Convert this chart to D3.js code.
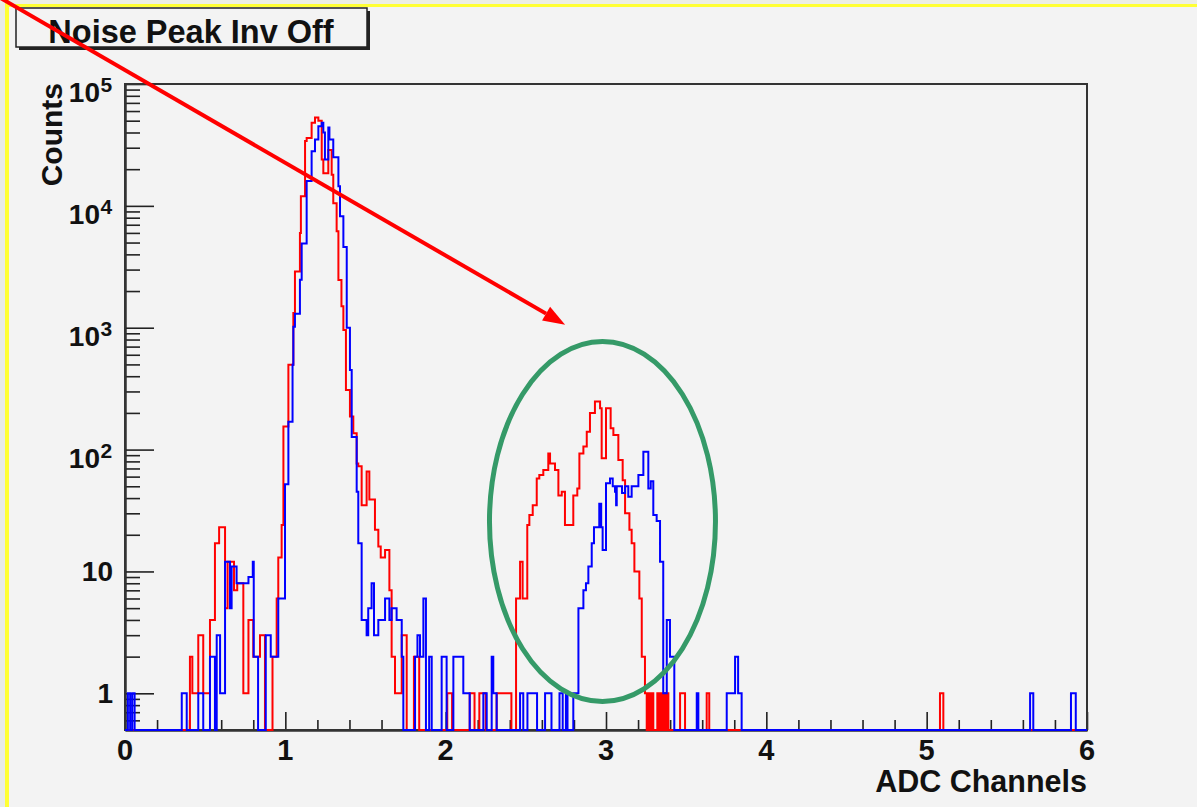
<!DOCTYPE html>
<html>
<head>
<meta charset="utf-8">
<script src="https://d3js.org/d3.v7.min.js"></script>
<style>
body { margin: 0; background: #f3f3f3; overflow: hidden; }
svg { display: block; font-family: 'Liberation Sans', Arial, sans-serif; font-weight: bold; }
</style>
</head>
<body>
<div class="main"></div>
<script>
// histogram steps: [left edge in ADC channels, counts] - count holds until next edge
var redBins = [
    [0, 0], [0.405, 2], [0.42, 1], [0.457, 3], [0.488, 1], [0.53, 4], [0.561, 17], [0.587, 23],
    [0.624, 5], [0.64, 12], [0.68, 7], [0.70, 8], [0.738, 1], [0.77, 4], [0.80, 2],
    [0.842, 3], [0.873, 0], [0.92, 2], [0.946, 6], [0.956, 13], [0.977, 24], [0.988, 155],
    [1.019, 496], [1.050, 1320], [1.060, 2900], [1.091, 6000], [1.097, 12000], [1.123, 34000],
    [1.133, 36000], [1.164, 48000], [1.185, 53000], [1.206, 50000], [1.227, 24000],
    [1.237, 18500], [1.268, 28800], [1.289, 18000], [1.299, 10500], [1.320, 6200],
    [1.331, 2460], [1.350, 1500], [1.362, 960], [1.378, 309], [1.403, 187], [1.424, 136],
    [1.445, 77], [1.455, 73], [1.476, 35], [1.507, 66], [1.524, 39], [1.559, 22],
    [1.580, 16], [1.595, 13], [1.622, 15], [1.649, 7], [1.663, 2], [1.684, 1], [1.726, 3],
    [1.757, 0], [1.802, 2], [1.835, 0], [2.01, 1], [2.04, 0], [2.15, 1], [2.18, 0],
    [2.21, 1], [2.25, 0], [2.318, 1], [2.41, 0], [2.439, 6], [2.464, 12], [2.480, 6],
    [2.509, 24], [2.522, 29], [2.543, 35], [2.568, 58], [2.584, 62], [2.609, 68],
    [2.640, 93], [2.651, 77], [2.682, 68], [2.703, 42], [2.724, 45], [2.744, 24],
    [2.796, 42], [2.821, 48], [2.834, 93], [2.859, 106], [2.880, 140], [2.900, 200],
    [2.931, 248], [2.963, 218], [2.973, 85], [3.000, 218], [3.029, 150], [3.046, 132],
    [3.077, 82], [3.104, 56], [3.119, 30], [3.146, 22], [3.160, 17], [3.177, 10],
    [3.208, 6], [3.223, 2], [3.243, 1], [3.254, 0], [3.264, 1], [3.274, 0], [3.285, 1],
    [3.295, 0], [3.320, 1], [3.326, 0], [3.337, 1], [3.347, 0], [3.357, 1], [3.368, 0],
    [3.379, 1], [3.389, 0], [3.462, 1], [3.493, 0], [3.628, 1], [3.644, 0], [5.083, 1],
    [5.104, 0]
];

var blueBins = [
    [0, 0], [0.018, 1], [0.032, 0], [0.045, 1], [0.06, 0], [0.354, 1], [0.385, 0],
    [0.457, 1], [0.488, 0], [0.53, 2], [0.561, 0], [0.572, 3], [0.593, 1], [0.624, 12],
    [0.655, 5], [0.665, 11], [0.696, 8], [0.77, 9], [0.797, 12], [0.803, 2], [0.83, 0],
    [0.878, 3], [0.909, 2], [0.956, 6], [0.998, 52], [1.019, 169], [1.045, 496],
    [1.050, 1020], [1.060, 1300], [1.091, 2470], [1.102, 4900], [1.133, 16000],
    [1.164, 28000], [1.185, 35000], [1.206, 45000], [1.227, 48000], [1.237, 40000],
    [1.247, 24000], [1.268, 44000], [1.275, 35000], [1.299, 25000], [1.331, 14500],
    [1.341, 8200], [1.362, 4600], [1.383, 1000], [1.403, 450], [1.414, 127], [1.445, 45],
    [1.455, 17], [1.476, 4], [1.507, 3], [1.517, 5], [1.538, 8], [1.553, 3], [1.580, 4],
    [1.622, 6], [1.649, 4], [1.663, 5], [1.694, 4], [1.726, 2], [1.736, 0], [1.809, 2],
    [1.824, 3], [1.840, 2], [1.861, 6], [1.877, 0], [1.897, 2], [1.913, 0], [1.975, 2],
    [2.006, 0], [2.048, 2], [2.11, 1], [2.15, 0], [2.235, 1], [2.256, 0], [2.287, 2],
    [2.297, 1], [2.318, 0], [2.464, 1], [2.484, 0], [2.51, 1], [2.57, 0], [2.62, 1],
    [2.66, 0], [2.71, 1], [2.73, 0], [2.75, 1], [2.76, 0], [2.796, 1], [2.828, 5],
    [2.859, 7], [2.875, 8], [2.890, 11], [2.911, 17], [2.925, 23], [2.958, 36],
    [2.970, 23], [2.979, 15], [3.000, 53], [3.025, 58], [3.042, 50], [3.056, 45],
    [3.063, 35], [3.067, 50], [3.10, 44], [3.119, 50], [3.139, 41], [3.160, 50],
    [3.202, 62], [3.233, 96], [3.264, 48], [3.279, 55], [3.295, 29], [3.316, 26],
    [3.337, 12], [3.357, 1], [3.379, 4], [3.399, 2], [3.426, 0], [3.566, 1], [3.576, 0],
    [3.753, 1], [3.805, 2], [3.824, 1], [3.846, 0], [5.645, 1], [5.665, 0], [5.90, 1],
    [5.93, 0]
];

var xTicks = [0, 1, 2, 3, 4, 5, 6];
var yTicks = [1, 10, 100, 1000, 10000, 100000];
var yTickBase = ['1', '10', '10', '10', '10', '10'];
var yTickExp = ['', '', '2', '3', '4', '5'];

var title = 'Noise Peak Inv Off';
var xTitle = 'ADC Channels';
var yTitle = 'Counts';

// annotation positions in data units
var arrowFrom = [-0.78, 510000];
var arrowTo = [2.745, 1060];
var ringCenter = [2.978, 25.7];

var options = {
    'width': 1197,
    'height': 807,
};

var svg = d3.select('.main')
    .append('svg')
    .attr('width', options.width)
    .attr('height', options.height);

svg.append('rect')
    .attr('width', options.width)
    .attr('height', options.height)
    .style('fill', '#f3f3f3');

// yellow frame of the slide
svg.append('rect').attr('x', 0).attr('y', 0).attr('width', 5).attr('height', options.height).style('fill', '#e8ebe6');
svg.append('rect').attr('x', 0).attr('y', 0).attr('width', options.width).attr('height', 4).style('fill', '#eceee4');
svg.append('rect').attr('x', 5).attr('y', 0).attr('width', 4).attr('height', options.height).style('fill', '#ffff33');
svg.append('rect').attr('x', 5).attr('y', 4).attr('width', options.width).attr('height', 3).style('fill', '#ffff33');

var x = d3.scaleLinear().domain([0, 6]).range([125, 1087]);
var y = d3.scaleLog().domain([0.5, 100000]).range([730, 84]);

function yc(c) {
    return c > 0 ? y(c) : y.range()[0];
}

// minor ticks
var xMinor = d3.range(0, 6.001, 0.2).map(function (d) { return Math.round(d * 10) / 10; })
    .filter(function (d) { return xTicks.indexOf(d) < 0; });
var yMinor = [0.6, 0.7, 0.8, 0.9];
[1, 10, 100, 1000, 10000].forEach(function (dec) {
    for (var k = 2; k <= 9; k++) yMinor.push(k * dec);
});

var gAxes = svg.append('g');

gAxes.append('g')
    .attr('transform', 'translate(0,730)')
    .call(d3.axisBottom(x).tickValues(xMinor).tickSize(-10).tickSizeOuter(0).tickFormat(''));
gAxes.append('g')
    .attr('transform', 'translate(0,730)')
    .call(d3.axisBottom(x).tickValues(xTicks).tickSize(-18).tickSizeOuter(0).tickFormat(''));
gAxes.append('g')
    .attr('transform', 'translate(125,0)')
    .call(d3.axisLeft(y).tickValues(yMinor).tickSize(-15).tickSizeOuter(0).tickFormat(''));
gAxes.append('g')
    .attr('transform', 'translate(125,0)')
    .call(d3.axisLeft(y).tickValues(yTicks).tickSize(-29).tickSizeOuter(0).tickFormat(''));

gAxes.selectAll('.domain').style('stroke', '#333').style('stroke-width', '2px');
gAxes.selectAll('.tick line').style('stroke', '#222').style('stroke-width', '1.6px');

svg.append('rect')
    .attr('x', x(0))
    .attr('y', y(100000))
    .attr('width', x(6) - x(0))
    .attr('height', y(0.5) - y(100000))
    .style('fill', 'none')
    .style('stroke', '#333')
    .style('stroke-width', '2px');

// tick labels
svg.selectAll('.xlab')
    .data(xTicks)
    .enter()
    .append('text')
    .attr('class', 'xlab')
    .attr('x', function (d) { return x(d); })
    .attr('y', 760)
    .attr('text-anchor', 'middle')
    .style('font-size', '29px')
    .style('fill', '#111')
    .text(function (d) { return d; });

var yLab = svg.selectAll('.ylab')
    .data(yTicks)
    .enter()
    .append('g')
    .attr('class', 'ylab');

yLab.append('text')
    .attr('x', function (d, i) { return yTickExp[i] ? 100 : 113; })
    .attr('y', function (d, i) { return y(d) + (yTickExp[i] ? 18 : 10); })
    .attr('text-anchor', 'end')
    .style('font-size', '28px')
    .style('fill', '#111')
    .text(function (d, i) { return yTickBase[i]; });

yLab.append('text')
    .attr('x', 100.5)
    .attr('y', function (d) { return y(d) + 8; })
    .style('font-size', '21px')
    .style('fill', '#111')
    .text(function (d, i) { return yTickExp[i]; });

svg.append('text')
    .attr('x', 1087)
    .attr('y', 792)
    .attr('text-anchor', 'end')
    .style('font-size', '30.5px')
    .style('fill', '#111')
    .text(xTitle);

svg.append('text')
    .attr('transform', 'translate(62,83) rotate(-90)')
    .attr('text-anchor', 'end')
    .style('font-size', '30px')
    .style('fill', '#111')
    .text(yTitle);

// histograms
var step = d3.line()
    .x(function (d) { return x(d[0]); })
    .y(function (d) { return yc(d[1]); })
    .curve(d3.curveStepAfter);

[[redBins, '#ff0000'], [blueBins, '#0000ff']].forEach(function (s) {
    svg.append('path')
        .attr('d', step(s[0].concat([[6, 0]])))
        .style('fill', 'none')
        .style('stroke', s[1])
        .style('stroke-width', '2px')
        .style('stroke-linejoin', 'miter');
});

// title box
svg.append('rect')
    .attr('x', 19).attr('y', 11).attr('width', 351).attr('height', 39)
    .style('fill', '#222');
svg.append('rect')
    .attr('x', 16).attr('y', 8).attr('width', 351).attr('height', 39)
    .style('fill', '#f3f3f3')
    .style('stroke', '#222')
    .style('stroke-width', '1.5px');
svg.append('text')
    .attr('x', 191)
    .attr('y', 43)
    .attr('text-anchor', 'middle')
    .style('font-size', '32.5px')
    .style('fill', '#111')
    .text(title);

// green ring
svg.append('ellipse')
    .attr('cx', x(ringCenter[0]))
    .attr('cy', y(ringCenter[1]))
    .attr('rx', 113)
    .attr('ry', 180)
    .style('fill', 'none')
    .style('stroke', '#359a68')
    .style('stroke-width', '5px');

// red arrow
var ax0 = x(arrowFrom[0]), ay0 = y(arrowFrom[1]);
var ax1 = x(arrowTo[0]), ay1 = y(arrowTo[1]);
var ang = Math.atan2(ay1 - ay0, ax1 - ax0);
var headL = 22, headW = 8;
var bx = ax1 - headL * Math.cos(ang), by = ay1 - headL * Math.sin(ang);

svg.append('line')
    .attr('x1', ax0).attr('y1', ay0)
    .attr('x2', bx).attr('y2', by)
    .style('stroke', '#ff0000')
    .style('stroke-width', '4px');

svg.append('path')
    .attr('d', 'M' + [ax1, ay1] +
        'L' + [bx - headW * Math.sin(ang), by + headW * Math.cos(ang)] +
        'L' + [bx + headW * Math.sin(ang), by - headW * Math.cos(ang)] + 'Z')
    .style('fill', '#ff0000');
</script>
</body>
</html>
